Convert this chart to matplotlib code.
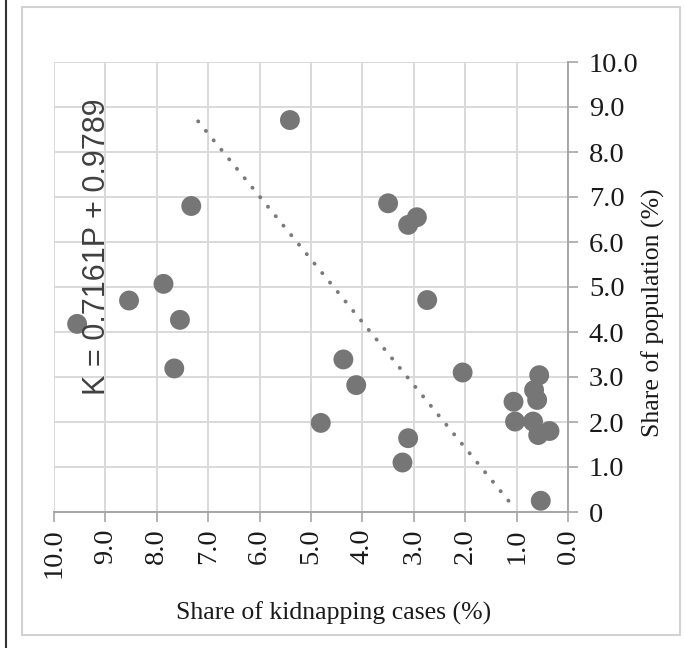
import matplotlib
matplotlib.use("Agg")
import matplotlib.pyplot as plt
from matplotlib.lines import Line2D
from matplotlib.patches import Rectangle

# ── Data ──────────────────────────────────────────────────────────────────────
kidnap_share = [9.55, 8.54, 7.87, 7.55, 7.66, 7.33, 5.41, 4.81, 4.37, 4.12,
                3.50, 3.11, 2.94, 2.74, 3.11, 3.22, 2.05,
                0.56, 0.66, 0.60, 1.06, 1.03, 0.68, 0.58, 0.36, 0.53]
pop_share = [4.18, 4.70, 5.07, 4.27, 3.19, 6.80, 8.71, 1.98, 3.39, 2.82,
             6.86, 6.38, 6.55, 4.71, 1.64, 1.10, 3.10,
             3.04, 2.71, 2.49, 2.45, 2.01, 2.01, 1.71, 1.80, 0.25]

trend_slope = 0.7161
trend_icept = 0.9789

x_ticks = [10, 9, 8, 7, 6, 5, 4, 3, 2, 1, 0]
x_tick_labels = ["10.0", "9.0", "8.0", "7.0", "6.0", "5.0", "4.0", "3.0", "2.0", "1.0", "0.0"]
y_ticks = [0, 1, 2, 3, 4, 5, 6, 7, 8, 9, 10]
y_tick_labels = ["0", "1.0", "2.0", "3.0", "4.0", "5.0", "6.0", "7.0", "8.0", "9.0", "10.0"]

# ── Style ─────────────────────────────────────────────────────────────────────
SERIF = "Liberation Serif"
GRID = "#d9d9d9"
AXIS = "#a6a6a6"
MARK = "#767676"
TEXT = "#1a1a1a"

fig = plt.figure(figsize=(6.85, 6.48), dpi=100)
fig.patch.set_facecolor("white")

# outer frame like the source figure
fig.add_artist(Rectangle((22 / 685, 1 - 635 / 648), 658 / 685, 628 / 648,
                         transform=fig.transFigure, fill=False,
                         edgecolor="#d2d2d2", linewidth=1.5))
fig.add_artist(Line2D([6 / 685, 6 / 685], [0, 1], transform=fig.transFigure,
                      color="#333333", linewidth=1.5))

ax = fig.add_axes([54 / 685, 1 - 512 / 648, 514 / 685, 450 / 648])
ax.set_xlim(10, 0)
ax.set_ylim(0, 10)

ax.set_xticks(x_ticks)
ax.set_xticklabels(x_tick_labels, rotation=90, fontfamily=SERIF, fontsize=20.5, color=TEXT)
ax.set_yticks(y_ticks)
ax.set_yticklabels(y_tick_labels, fontfamily=SERIF, fontsize=20.5, color=TEXT)
ax.yaxis.tick_right()
ax.tick_params(axis="both", direction="out", length=7, width=1.2, color=AXIS)
ax.tick_params(axis="y", pad=8)
ax.tick_params(axis="x", pad=5)

ax.grid(True, color=GRID, linewidth=1.4)
ax.set_axisbelow(True)
for side in ("left", "top"):
    ax.spines[side].set_visible(False)
for side in ("bottom", "right"):
    ax.spines[side].set_color(AXIS)
    ax.spines[side].set_linewidth(1.4)

ax.scatter(kidnap_share, pop_share, s=205, color=MARK, edgecolors="none", zorder=3)

# regression K = a*P + b, drawn across the range of P
p_lo, p_hi = min(pop_share), max(pop_share)
ax.plot([trend_slope * p_lo + trend_icept, trend_slope * p_hi + trend_icept], [p_lo, p_hi],
        color="#7a7a7a", linewidth=2.8, linestyle=(0, (0.05, 3.1)),
        dash_capstyle="round", zorder=2)

ax.text(0.084, 0.589, "K = 0.7161P + 0.9789", transform=ax.transAxes, rotation=90,
        ha="center", va="center", fontfamily="Liberation Sans", fontsize=22, color="#404040")

ax.set_xlabel("Share of kidnapping cases (%)", fontfamily=SERIF, fontsize=18.5,
              color=TEXT, va="center", ha="center")
ax.xaxis.set_label_coords(0.544, -0.224)
ax.set_ylabel("Share of population (%)", fontfamily=SERIF, fontsize=18.5,
              color=TEXT, va="center", ha="center", rotation=90)
ax.yaxis.set_label_coords(1.165, 0.444)

fig.savefig("out.png", dpi=100, facecolor="white")
